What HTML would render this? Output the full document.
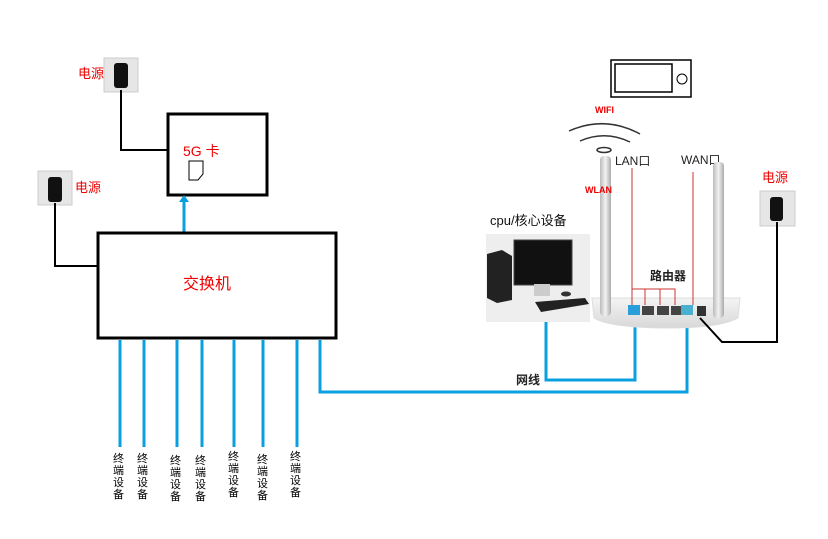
<!DOCTYPE html>
<html><head><meta charset="utf-8"><style>
body{margin:0;background:#fff;}
svg text{font-family:"Liberation Sans","Noto Sans CJK SC",sans-serif;}
</style></head><body>
<svg width="828" height="534" viewBox="0 0 828 534" xmlns="http://www.w3.org/2000/svg">
<defs>
<linearGradient id="ant" x1="0" x2="1"><stop offset="0" stop-color="#bbb"/><stop offset="0.5" stop-color="#f2f2f2"/><stop offset="1" stop-color="#aaa"/></linearGradient>
<linearGradient id="rt" x1="0" y1="0" x2="0" y2="1"><stop offset="0" stop-color="#f4f4f4"/><stop offset="1" stop-color="#d8d8d8"/></linearGradient>
</defs>
<rect x="104" y="58" width="34" height="34" fill="#e6e6e6" stroke="#ccc"/>
<rect x="114" y="63" width="14" height="25" rx="3" fill="#111"/>
<text x="78" y="78" font-size="13" fill="#e00">电源</text>
<rect x="38" y="171" width="34" height="34" fill="#e6e6e6" stroke="#ccc"/>
<rect x="48" y="177" width="14" height="25" rx="3" fill="#111"/>
<text x="75" y="192" font-size="13" fill="#e00">电源</text>
<polyline points="121,90 121,150 168,150" fill="none" stroke="#000" stroke-width="2"/>
<polyline points="55,203 55,266 98,266" fill="none" stroke="#000" stroke-width="2"/>
<rect x="168" y="114" width="99" height="81" fill="#fff" stroke="#000" stroke-width="3"/>
<text x="183" y="156" font-size="14" fill="#e00">5G 卡</text>
<path d="M189 161 L203 161 L203 174 L198 180 L189 180 Z" fill="none" stroke="#000" stroke-width="1"/>
<line x1="184" y1="234" x2="184" y2="200" stroke="#0aa0e0" stroke-width="3"/>
<polygon points="179,202 184,195 189,202" fill="#0aa0e0"/>
<rect x="98" y="233" width="238" height="105" fill="#fff" stroke="#000" stroke-width="3"/>
<text x="183" y="289" font-size="16" fill="#e00">交换机</text>
<g stroke="#0aa0e0" stroke-width="3" fill="none">
<line x1="120" y1="340" x2="120" y2="447"/>
<line x1="144" y1="340" x2="144" y2="447"/>
<line x1="177" y1="340" x2="177" y2="447"/>
<line x1="202" y1="340" x2="202" y2="447"/>
<line x1="234" y1="340" x2="234" y2="447"/>
<line x1="263" y1="340" x2="263" y2="447"/>
<line x1="297" y1="340" x2="297" y2="447"/>
<polyline points="320,340 320,392 687,392 687,312"/>
<polyline points="546,312 546,380 635,380 635,312"/>
</g>
<g font-size="11" fill="#000">
<text x="113" y="462">终</text><text x="113" y="474">端</text><text x="113" y="486">设</text><text x="113" y="498">备</text>
<text x="137" y="462">终</text><text x="137" y="474">端</text><text x="137" y="486">设</text><text x="137" y="498">备</text>
<text x="170" y="464">终</text><text x="170" y="476">端</text><text x="170" y="488">设</text><text x="170" y="500">备</text>
<text x="195" y="464">终</text><text x="195" y="476">端</text><text x="195" y="488">设</text><text x="195" y="500">备</text>
<text x="228" y="460">终</text><text x="228" y="472">端</text><text x="228" y="484">设</text><text x="228" y="496">备</text>
<text x="257" y="463">终</text><text x="257" y="475">端</text><text x="257" y="487">设</text><text x="257" y="499">备</text>
<text x="290" y="460">终</text><text x="290" y="472">端</text><text x="290" y="484">设</text><text x="290" y="496">备</text>
</g>
<rect x="611" y="60" width="80" height="37" fill="#fff" stroke="#000" stroke-width="1.5"/>
<rect x="615" y="64" width="57" height="28" fill="#fff" stroke="#000" stroke-width="1.5"/>
<circle cx="682" cy="79" r="5" fill="none" stroke="#000"/>
<text x="595" y="113" font-size="9" fill="#e00" font-weight="bold">WIFI</text>
<path d="M569 131 Q605 115 640 134" fill="none" stroke="#333" stroke-width="1.5"/>
<path d="M580 141 Q605 130 630 142" fill="none" stroke="#333" stroke-width="1.5"/>
<ellipse cx="604" cy="150" rx="7" ry="2.5" fill="none" stroke="#333" stroke-width="1.5"/>
<text x="615" y="165" font-size="12" fill="#222">LAN口</text>
<text x="681" y="164" font-size="12" fill="#222">WAN口</text>
<path d="M592 298 L740 298 L738 318 Q720 328 670 328 Q610 328 594 318 Z" fill="url(#rt)" stroke="#ddd"/>
<rect x="600" y="156" width="11" height="160" rx="4" fill="url(#ant)"/>
<rect x="713" y="162" width="11" height="156" rx="4" fill="url(#ant)"/>
<text x="585" y="193" font-size="9" fill="#e00" font-weight="bold">WLAN</text>
<g stroke="#c33" stroke-width="1" fill="none">
<line x1="632" y1="168" x2="632" y2="305"/><line x1="693" y1="172" x2="693" y2="305"/>
<polyline points="632,289 675,289 675,305"/><line x1="645" y1="289" x2="645" y2="305"/><line x1="660" y1="289" x2="660" y2="305"/>
</g>
<rect x="628" y="305" width="12" height="10" fill="#2a9ed8"/>
<rect x="642" y="306" width="12" height="9" fill="#444"/>
<rect x="657" y="306" width="12" height="9" fill="#444"/>
<rect x="671" y="306" width="12" height="9" fill="#444"/>
<rect x="681" y="305" width="12" height="10" fill="#4ab0d0"/>
<rect x="697" y="306" width="9" height="10" fill="#333"/>
<text x="650" y="280" font-size="12" font-weight="bold" fill="#222">路由器</text>
<rect x="760" y="191" width="35" height="35" fill="#e6e6e6" stroke="#ccc"/>
<rect x="770" y="197" width="13" height="24" rx="3" fill="#111"/>
<text x="762" y="182" font-size="13" fill="#e00">电源</text>
<polyline points="777,222 777,342 722,342 700,318" fill="none" stroke="#000" stroke-width="2"/>
<text x="490" y="225" font-size="13" fill="#111">cpu/核心设备</text>
<rect x="486" y="234" width="104" height="88" fill="#eee"/>
<path d="M487 254 L502 250 L512 256 L512 300 L497 303 L487 298 Z" fill="#222"/>
<rect x="514" y="240" width="58" height="45" fill="#111" stroke="#444"/>
<rect x="534" y="284" width="16" height="12" fill="#ccc"/>
<path d="M535 302 L585 298 L589 304 L541 312 Z" fill="#222"/>
<ellipse cx="566" cy="294" rx="5" ry="2.5" fill="#333"/>
<text x="516" y="384" font-size="12" font-weight="bold" fill="#222">网线</text>
</svg>
</body></html>
